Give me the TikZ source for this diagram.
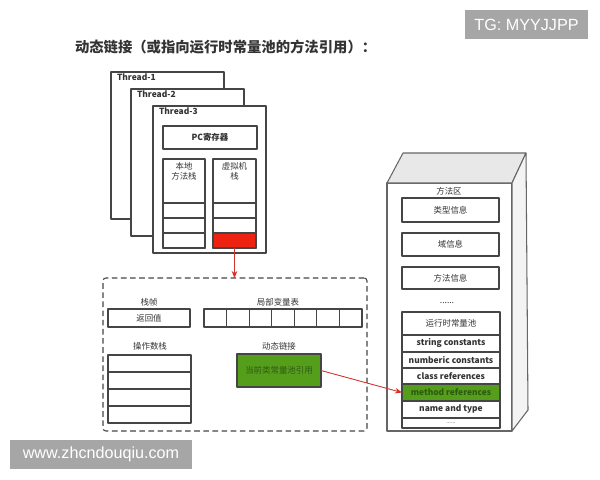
\documentclass[tikz,border=0pt]{standalone}
\usepackage{fontspec}
\setmainfont{Noto Sans CJK SC}
\newfontfamily\wmfont{Liberation Sans}
\usetikzlibrary{positioning,arrows.meta,calc}

\definecolor{linegray}{HTML}{454545}
\definecolor{textgray}{HTML}{333333}
\definecolor{areagray}{HTML}{666666}
\definecolor{topgray}{HTML}{E8E8E8}
\definecolor{sidegray}{HTML}{F3F3F3}
\definecolor{cellred}{HTML}{EE2211}
\definecolor{arrowred}{HTML}{D0342C}
\definecolor{linkgreen}{HTML}{559E1C}
\definecolor{darkgreen}{HTML}{2E5A10}
\definecolor{wmgray}{HTML}{A6A6A6}

\begin{document}
\begin{tikzpicture}[
    x=0.025cm, y=-0.025cm,
    line join=round,
    >={Stealth[length=5pt, width=4pt]},
    every node/.style={inner sep=0pt, outer sep=0pt},
    sz/.style 2 args={minimum width=#1*0.025cm, minimum height=#2*0.025cm},
    txt/.style={font=\fontsize{6}{7.6}\selectfont, text=textgray},
    cell/.style={draw=linegray, line width=0.75pt, fill=white, txt},
    thread/.style={draw=linegray, line width=0.75pt, fill=white},
    threadlbl/.style={font=\bfseries\fontsize{6}{7}\selectfont, text=textgray},
    poolrow/.style={cell, font=\bfseries\fontsize{6}{7}\selectfont, sz={98}{#1}},
    framebox/.style={draw=linegray, dash pattern=on 4pt off 2.5pt, line width=0.75pt, rounded corners=2pt},
    redarrow/.style={->, draw=arrowred, fill=arrowred, line width=0.6pt},
    wmbox/.style={fill=wmgray, text=white, font=\wmfont\fontsize{11.5}{13}\selectfont},
    title/.style={font=\bfseries\fontsize{10.2}{12}\selectfont, text=textgray}
]
\useasboundingbox (0,0) rectangle (600,480);

% Title
\node[title, anchor=west] (title) at (75,47) {动态链接（或指向运行时常量池的方法引用）：};

% Threads
\foreach \n/\x/\y in {1/111/72, 2/131/89, 3/153/106}{
  \node[thread, sz={113}{147}, anchor=north west] (thread\n) at (\x,\y) {};
  \node[threadlbl, anchor=west] at ($(thread\n.north west)+(6,5)$) {Thread-\n};
}
\node[cell, font=\bfseries\fontsize{6}{7.6}\selectfont, sz={94}{23}] (pc) at (210,137.5) {PC寄存器};
\node[cell, sz={42}{89}, anchor=north west] (native) at (163,159) {};
\node[cell, sz={43}{89}, anchor=north west] (jvms) at (213,159) {};
\node[txt, align=center, anchor=north] at ($(native.north)+(0,3)$) {本地\\方法栈};
\node[txt, align=center, anchor=north] at ($(jvms.north)+(0,3)$) {虚拟机\\栈};
\foreach \i/\y in {1/210.5, 2/225.5, 3/240.5}{
  \node[cell, sz={42}{15}] (native\i) at (184,\y) {};
}
\node[cell, sz={43}{15}] (jvm1) at (234.5,210.5) {};
\node[cell, sz={43}{15}] (jvm2) at (234.5,225.5) {};
\node[cell, fill=cellred, sz={43}{15}] (jvm3) at (234.5,240.5) {};

% Stack frame
\node[framebox, sz={264}{153}, anchor=north west] (frame) at (103,278) {};
\node[txt] (retlbl) at (149,302) {栈帧};
\node[cell, sz={82}{18}, anchor=north west] (retval) at (108,309) {返回值};
\node[txt] (lvlbl) at (278,302) {局部变量表};
\foreach \i in {0,...,6}{
  \node[cell, sz={22.57}{18}, anchor=north west] (lv\i) at ({204+\i*22.57},309) {};
}
\node[txt] (oplbl) at (150,346) {操作数栈};
\foreach \i in {0,...,3}{
  \node[cell, sz={83}{17}, anchor=north west] (op\i) at (108,{355+\i*17}) {};
}
\node[txt] (dynlbl) at (279,346) {动态链接};
\node[cell, fill=linkgreen, text=darkgreen, sz={84}{33}] (dynlink) at (279,370.5) {当前类常量池引用};

% Method area
\node[draw=areagray, line width=0.75pt, fill=white, sz={125}{248}, anchor=north west] (marea) at (387,183) {};
\filldraw[fill=topgray, draw=areagray, line width=0.75pt]
  (marea.north west) -- (403,153) -- (526,153) -- (marea.north east) -- cycle;
\filldraw[fill=sidegray, draw=areagray, line width=0.75pt]
  (marea.north east) -- (526,153) -- (528,410) -- (marea.south east) -- cycle;
\node[txt] (malbl) at (449,191) {方法区};
\node[cell, sz={97}{24}, anchor=north west] (typeinfo) at (402,198) {类型信息};
\node[cell, sz={97}{23}, anchor=north west] (fieldinfo) at (402,233) {域信息};
\node[cell, sz={97}{22}, anchor=north west] (methinfo) at (402,267) {方法信息};
\node[txt] (dots) at (447,303) {......};
\node[cell, poolrow=23, font=\fontsize{6}{7}\selectfont, anchor=north west] (pool0) at (402,312) {运行时常量池};
\node[poolrow=17, anchor=north west] (pool1) at (402,335) {string constants};
\node[poolrow=16, anchor=north west] (pool2) at (402,352) {numberic constants};
\node[poolrow=16, anchor=north west] (pool3) at (402,368) {class references};
\node[poolrow=17, fill=linkgreen, text=darkgreen, anchor=north west] (mref) at (402,384) {method references};
\node[poolrow=17, anchor=north west] (pool5) at (402,401) {name and type};
\node[poolrow=10, font=\fontsize{4}{5}\selectfont, anchor=north west] (pool6) at (402,418) {......};

% Connectors
\draw[redarrow] (jvm3.south) -- (jvm3.south |- frame.north);
\draw[redarrow] (dynlink.east) -- (mref.west);

% Watermarks
\node[wmbox, sz={123}{29}, anchor=north west] (tg) at (465,10) {TG: MYYJJPP};
\node[wmbox, sz={182}{29}, anchor=north west] (site) at (10,440) {www.zhcndouqiu.com};
\end{tikzpicture}
\end{document}
